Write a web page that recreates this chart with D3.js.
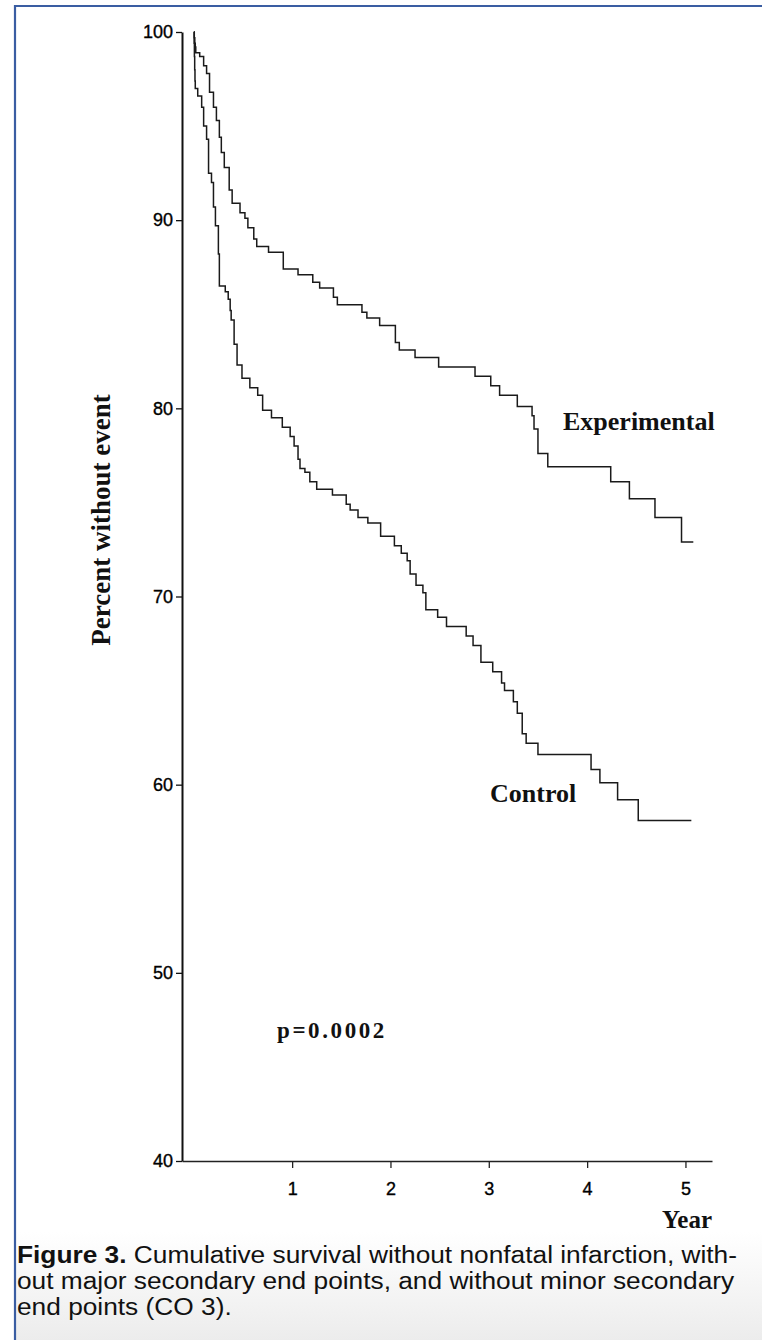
<!DOCTYPE html>
<html>
<head>
<meta charset="utf-8">
<script src="https://cdn.jsdelivr.net/npm/d3@7"></script>
<style>
  html, body { margin: 0; padding: 0; background: #fff; }
  svg { display: block; }
</style>
</head>
<body>
<div id="chart"></div>
<script>
// Kaplan-Meier steps: time of drop (years) and survival after it (%)
const expTimes = [0, 0.005, 0.01, 0.015, 0.02, 0.06, 0.10, 0.13, 0.16, 0.20, 0.23, 0.26, 0.28, 0.31, 0.36, 0.39,
  0.47, 0.52, 0.55, 0.61, 0.64, 0.76, 0.91, 1.06, 1.21, 1.28, 1.42, 1.46, 1.71, 1.76, 1.89, 2.05, 2.09,
  2.25, 2.49, 2.86, 3.02, 3.11, 3.29, 3.44, 3.46, 3.50, 3.60, 4.24, 4.43, 4.69, 4.96, 5.08];
const expSurv = [100, 99.7, 99.4, 99.2, 98.9, 98.7, 98.2, 97.8, 96.8, 96.0, 95.3, 94.4, 93.6, 92.8, 91.6, 90.9,
  90.4, 90.1, 89.6, 89.0, 88.6, 88.3, 87.4, 87.1, 86.7, 86.4, 85.9, 85.5, 85.1, 84.8, 84.4, 83.5, 83.1,
  82.7, 82.2, 81.7, 81.2, 80.7, 80.1, 79.6, 78.9, 77.6, 76.9, 76.1, 75.2, 74.2, 72.9, 72.9];

const ctrlTimes = [0, 0.003, 0.006, 0.009, 0.012, 0.015, 0.04, 0.08, 0.10, 0.13, 0.15, 0.18, 0.20, 0.22, 0.25, 0.26,
  0.32, 0.35, 0.37, 0.38, 0.41, 0.44, 0.49, 0.57, 0.65, 0.70, 0.79, 0.90, 0.98, 1.02, 1.06, 1.08, 1.13,
  1.18, 1.25, 1.41, 1.55, 1.59, 1.67, 1.77, 1.90, 2.04, 2.11, 2.17, 2.20, 2.26, 2.33, 2.36, 2.48, 2.57,
  2.77, 2.84, 2.92, 3.04, 3.13, 3.16, 3.25, 3.29, 3.34, 3.38, 3.50, 4.04, 4.13, 4.31, 4.52, 5.06];
const ctrlSurv = [100, 99.4, 98.7, 98.0, 97.4, 97.0, 96.6, 96.0, 95.0, 94.3, 92.5, 92.0, 90.7, 89.7, 88.2, 86.5,
  86.2, 85.8, 85.2, 84.7, 83.4, 82.3, 81.6, 81.1, 80.7, 79.9, 79.5, 79.0, 78.5, 78.0, 77.3, 76.8, 76.6,
  76.1, 75.7, 75.4, 74.9, 74.6, 74.2, 73.9, 73.2, 72.7, 72.3, 71.9, 71.2, 70.6, 70.2, 69.3, 68.9, 68.4,
  67.9, 67.4, 66.5, 66.0, 65.4, 65.0, 64.4, 63.8, 62.7, 62.2, 61.6, 60.8, 60.1, 59.2, 58.1, 58.1];

const yTicks = [40, 50, 60, 70, 80, 90, 100];
const xTicks = [1, 2, 3, 4, 5];

const captionLines = [
  ["Figure 3.", " Cumulative survival without nonfatal infarction, with-"],
  ["", "out major secondary end points, and without minor secondary"],
  ["", "end points (CO 3)."]
];

const width = 762, height = 1340;
const serif = "'Liberation Serif', 'Times New Roman', serif";
const sans = "'Liberation Sans', Arial, Helvetica, sans-serif";

const svg = d3.select('#chart').append('svg')
  .attr('width', width)
  .attr('height', height);

// caption background gradient
const defs = svg.append('defs');
const grad = defs.append('linearGradient')
  .attr('id', 'capbg').attr('x1', 0).attr('y1', 0).attr('x2', 0).attr('y2', 1);
grad.append('stop').attr('offset', '0%').attr('stop-color', '#ffffff');
grad.append('stop').attr('offset', '100%').attr('stop-color', '#ececec');
svg.append('rect')
  .attr('x', 15).attr('y', 1232).attr('width', width - 15).attr('height', height - 1232)
  .attr('fill', 'url(#capbg)');

// blue frame (top and left)
svg.append('path')
  .attr('d', `M15,${height} L15,6 L${width},6`)
  .attr('fill', 'none')
  .attr('stroke', '#3a5da2')
  .attr('stroke-width', 2.2);

// scales
const x = d3.scaleLinear().domain([-0.12, 5.27]).range([182, 712]);
const y = d3.scaleLinear().domain([40, 100]).range([1161, 32]);

// y axis
const yAxis = svg.append('g')
  .attr('transform', `translate(${x(-0.12)},0)`)
  .call(d3.axisLeft(y).tickValues(yTicks).tickSize(6).tickPadding(3).tickSizeOuter(0));
yAxis.select('.domain').attr('stroke', '#111').attr('stroke-width', 2);
yAxis.selectAll('.tick line').attr('stroke', '#111').attr('stroke-width', 1.3);
yAxis.selectAll('.tick text')
  .style('font-family', sans)
  .style('font-size', '18px')
  .attr('fill', '#000')
  .attr('stroke', '#000')
  .attr('stroke-width', 0.35);

// x axis
const xAxis = svg.append('g')
  .attr('transform', `translate(0,${y(40)})`)
  .call(d3.axisBottom(x).tickValues(xTicks).tickFormat(d3.format('d'))
    .tickSize(7).tickPadding(14).tickSizeOuter(0));
xAxis.select('.domain').attr('stroke', '#222').attr('stroke-width', 1.6);
xAxis.selectAll('.tick line').attr('stroke', '#222').attr('stroke-width', 1.3);
xAxis.selectAll('.tick text')
  .style('font-family', sans)
  .style('font-size', '18px')
  .attr('fill', '#000')
  .attr('stroke', '#000')
  .attr('stroke-width', 0.35);

// survival curves
const line = d3.line()
  .x(d => x(d[0]))
  .y(d => y(d[1]))
  .curve(d3.curveStepAfter);

const series = [
  { name: 'Experimental', pts: d3.zip(expTimes, expSurv) },
  { name: 'Control', pts: d3.zip(ctrlTimes, ctrlSurv) }
];

svg.selectAll('.km')
  .data(series)
  .enter().append('path')
  .attr('class', 'km')
  .attr('d', d => line(d.pts))
  .attr('fill', 'none')
  .attr('stroke', '#1a1a1a')
  .attr('stroke-width', 1.5);

// labels
const labels = [
  { text: 'Experimental', x: 563, y: 430 },
  { text: 'Control', x: 490, y: 802 }
];
svg.selectAll('.lbl')
  .data(labels)
  .enter().append('text')
  .attr('class', 'lbl')
  .attr('x', d => d.x)
  .attr('y', d => d.y)
  .style('font-family', serif)
  .style('font-weight', 'bold')
  .style('font-size', '26px')
  .attr('fill', '#111')
  .text(d => d.text);

svg.append('text')
  .attr('x', 277).attr('y', 1038)
  .style('font-family', serif)
  .style('font-weight', 'bold')
  .style('font-size', '23px')
  .style('letter-spacing', '2.6px')
  .attr('fill', '#111')
  .text('p=0.0002');

// axis titles
svg.append('text')
  .attr('transform', 'translate(110,520) rotate(-90)')
  .attr('text-anchor', 'middle')
  .style('font-family', serif)
  .style('font-weight', 'bold')
  .style('font-size', '27px')
  .attr('fill', '#111')
  .text('Percent without event');

svg.append('text')
  .attr('x', 712).attr('y', 1228)
  .attr('text-anchor', 'end')
  .style('font-family', serif)
  .style('font-weight', 'bold')
  .style('font-size', '25px')
  .attr('fill', '#111')
  .text('Year');

// caption: slightly condensed sans, first line fills the column like the original
const cap = svg.append('g');
const capTexts = captionLines.map((ln, i) => {
  const t = cap.append('text')
    .attr('x', 17)
    .attr('y', 1263 + i * 26)
    .style('font-family', sans)
    .style('font-size', '23.5px')
    .attr('fill', '#111');
  if (ln[0]) t.append('tspan').style('font-weight', 'bold').text(ln[0]);
  t.append('tspan').text(ln[1]);
  return t;
});
const squeeze = 720 / capTexts[0].node().getComputedTextLength();
capTexts.forEach(t => {
  const w = t.node().getComputedTextLength() * squeeze;
  t.attr('textLength', w.toFixed(1)).attr('lengthAdjust', 'spacingAndGlyphs');
});
</script>
</body>
</html>
